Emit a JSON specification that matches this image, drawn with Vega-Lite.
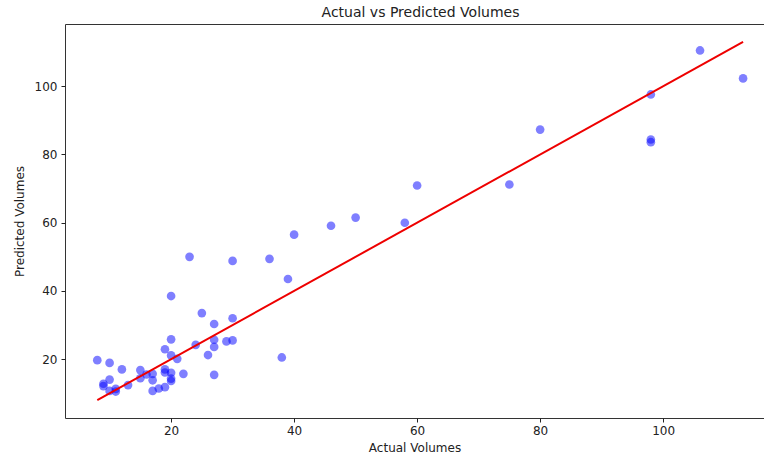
{
  "$schema": "https://vega.github.io/schema/vega-lite/v6.json",
  "autosize": {"type": "none"},
  "padding": {"left": 65, "top": 24, "right": 0, "bottom": 38},
  "width": 699,
  "height": 394,
  "background": "white",
  "config": {
    "font": "DejaVu Sans",
    "view": {"stroke": "#333333", "strokeWidth": 1},
    "axis": {"grid": false, "domain": false, "tickColor": "#222222", "tickSize": 4, "labelColor": "#222222", "labelFontSize": 12, "titleFontSize": 12, "titleFontWeight": "normal", "titleColor": "#222222", "labelFont": "DejaVu Sans", "titleFont": "DejaVu Sans"}
  },
  "title": {"text": "Actual vs Predicted Volumes", "fontSize": 14, "fontWeight": "normal", "color": "#222222", "font": "DejaVu Sans", "offset": 4, "dx": 6},
  "datasets": {
    "points": [
      {"actual": 106, "predicted": 110.5},
      {"actual": 113, "predicted": 102.3},
      {"actual": 98, "predicted": 97.6},
      {"actual": 98, "predicted": 84.4},
      {"actual": 98, "predicted": 83.6},
      {"actual": 80, "predicted": 87.3},
      {"actual": 75, "predicted": 71.2},
      {"actual": 60, "predicted": 70.9},
      {"actual": 58, "predicted": 60.0},
      {"actual": 50, "predicted": 61.5},
      {"actual": 46, "predicted": 59.1},
      {"actual": 40, "predicted": 56.5},
      {"actual": 39, "predicted": 43.5},
      {"actual": 36, "predicted": 49.4},
      {"actual": 23, "predicted": 50.0},
      {"actual": 30, "predicted": 48.8},
      {"actual": 20, "predicted": 38.5},
      {"actual": 25, "predicted": 33.5},
      {"actual": 30, "predicted": 32.0},
      {"actual": 27, "predicted": 30.3},
      {"actual": 38, "predicted": 20.5},
      {"actual": 20, "predicted": 25.8},
      {"actual": 27, "predicted": 25.7},
      {"actual": 29, "predicted": 25.2},
      {"actual": 30, "predicted": 25.5},
      {"actual": 24, "predicted": 24.2},
      {"actual": 27, "predicted": 23.6},
      {"actual": 19, "predicted": 22.9},
      {"actual": 26, "predicted": 21.2},
      {"actual": 20, "predicted": 21.1},
      {"actual": 21, "predicted": 20.1},
      {"actual": 8, "predicted": 19.7},
      {"actual": 10, "predicted": 18.9},
      {"actual": 12, "predicted": 17.0},
      {"actual": 15, "predicted": 16.8},
      {"actual": 17, "predicted": 15.7},
      {"actual": 19, "predicted": 17.0},
      {"actual": 19, "predicted": 16.1},
      {"actual": 20, "predicted": 16.0},
      {"actual": 22, "predicted": 15.7},
      {"actual": 27, "predicted": 15.4},
      {"actual": 15, "predicted": 14.4},
      {"actual": 16, "predicted": 15.5},
      {"actual": 17, "predicted": 13.8},
      {"actual": 20, "predicted": 14.3},
      {"actual": 20, "predicted": 13.6},
      {"actual": 10, "predicted": 14.0},
      {"actual": 9, "predicted": 12.8},
      {"actual": 9, "predicted": 12.1},
      {"actual": 11, "predicted": 11.3},
      {"actual": 11, "predicted": 10.5},
      {"actual": 10, "predicted": 10.7},
      {"actual": 13, "predicted": 12.4},
      {"actual": 18, "predicted": 11.4},
      {"actual": 19, "predicted": 11.8},
      {"actual": 17, "predicted": 10.7}
    ],
    "ideal": [
      {"actual": 8, "predicted": 8},
      {"actual": 113, "predicted": 113}
    ]
  },
  "layer": [
    {
      "data": {"name": "points"},
      "mark": {"type": "circle", "color": "#0000ff", "opacity": 0.5, "size": 75},
      "encoding": {
        "x": {"field": "actual", "type": "quantitative", "scale": {"domain": [2.75, 116.4], "nice": false, "zero": false}, "axis": {"title": "Actual Volumes", "values": [20, 40, 60, 80, 100], "labelPadding": 3, "titlePadding": 6}},
        "y": {"field": "predicted", "type": "quantitative", "scale": {"domain": [2.75, 118.25], "nice": false, "zero": false}, "axis": {"title": "Predicted Volumes", "values": [20, 40, 60, 80, 100], "labelPadding": 4, "titlePadding": 8}}
      }
    },
    {
      "data": {"name": "ideal"},
      "mark": {"type": "line", "color": "#ee0000", "strokeWidth": 2},
      "encoding": {
        "x": {"field": "actual", "type": "quantitative"},
        "y": {"field": "predicted", "type": "quantitative"}
      }
    }
  ]
}
